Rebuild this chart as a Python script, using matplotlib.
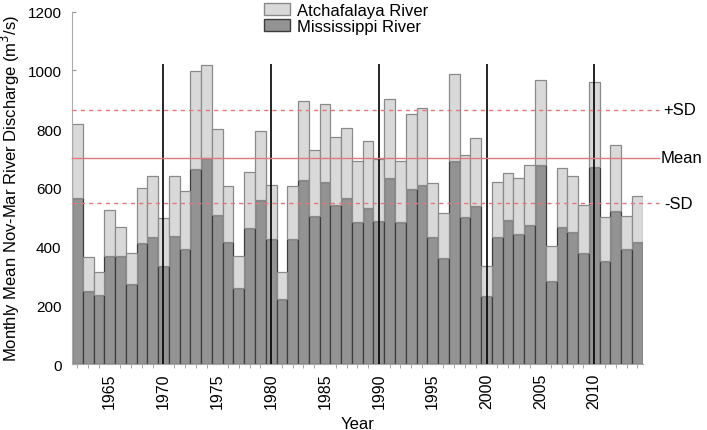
import numpy as np
import matplotlib
matplotlib.use("Agg")
import matplotlib.pyplot as plt
from matplotlib.patches import Patch

plt.rcParams['font.family'] = ['Liberation Sans', 'DejaVu Sans']

# water years 1962-2014
years = np.arange(1962, 2015)

# total discharge (bar tops) and Mississippi part
total = [816, 364, 312, 526, 467, 377, 599, 641, 498, 641,
         591, 998, 1018, 799, 605, 367, 653, 792, 611, 312,
         608, 897, 728, 887, 772, 805, 690, 759, 697, 903,
         690, 851, 872, 616, 514, 989, 713, 769, 333, 621,
         649, 633, 677, 967, 401, 669, 639, 542, 960, 500,
         745, 503, 572]
mississippi = [564, 249, 234, 367, 367, 271, 412, 431, 334, 437,
               392, 663, 703, 506, 415, 259, 463, 559, 426, 223,
               426, 627, 504, 619, 543, 564, 485, 530, 488, 634,
               484, 596, 610, 431, 361, 691, 501, 538, 232, 431,
               489, 443, 472, 678, 282, 465, 448, 377, 671, 351,
               520, 392, 417]
atchafalaya = np.array(total) - np.array(mississippi)

mean_val = 703
sd_hi = 866
sd_lo = 547
decade_years = [1970, 1980, 1990, 2000, 2010]
label_years = list(range(1965, 2015, 5))

fig = plt.figure(figsize=(7.07, 4.31), dpi=100)
ax = fig.add_axes([0.1018, 0.1531, 0.8072, 0.8174])

ax.bar(years, mississippi, width=1.0, color='#939393', edgecolor='#3c3c3c',
       linewidth=0.9, label='Mississippi River', zorder=2)
ax.bar(years, atchafalaya, bottom=mississippi, width=1.0, color='#d9d9d9',
       edgecolor='#8a8a8a', linewidth=0.9, label='Atchafalaya River', zorder=2)

ax.vlines(decade_years, 0, 1022, color='black', linewidth=1.2, zorder=3)

xr = [1961.5, 2016.0]
ax.plot(xr, [mean_val, mean_val], color='#e07a7a', lw=1.0, clip_on=False, zorder=4)
ax.plot(xr, [sd_hi, sd_hi], color='#e07a7a', lw=1.0, ls=(0, (3, 3)), clip_on=False, zorder=4)
ax.plot(xr, [sd_lo, sd_lo], color='#e07a7a', lw=1.0, ls=(0, (3, 3)), clip_on=False, zorder=4)

ax.text(2016.4, sd_hi, '+SD', fontsize=12, va='center', ha='left')
ax.text(2016.2, mean_val, 'Mean', fontsize=12, va='center', ha='left')
ax.text(2016.5, sd_lo, '-SD', fontsize=12, va='center', ha='left')

ax.set_xlim(1961.5, 2014.5)
ax.set_ylim(0, 1200)
ax.set_yticks(range(0, 1201, 200))
ax.set_xticks(label_years)
ax.set_xticklabels([str(y) for y in label_years], rotation=90)
ax.set_xticks(years, minor=True)
ax.tick_params(axis='x', which='major', length=0, pad=6, labelsize=11.5)
ax.tick_params(axis='x', which='minor', length=3, color='#999999')
ax.tick_params(axis='y', length=3, direction='in', color='#999999', labelsize=11, pad=7.5)

for s in ['top', 'right']:
    ax.spines[s].set_visible(False)
ax.spines['left'].set_color('#aaaaaa')
ax.spines['bottom'].set_color('#aaaaaa')

ax.set_xlabel('Year', fontsize=12, labelpad=6)
ax.set_ylabel('Monthly Mean Nov-Mar River Discharge (m$^3$/s)', fontsize=12, labelpad=4)

handles = [Patch(facecolor='#d9d9d9', edgecolor='#8a8a8a', label='Atchafalaya River'),
           Patch(facecolor='#939393', edgecolor='#3c3c3c', label='Mississippi River')]
ax.legend(handles=handles, loc='upper center', bbox_to_anchor=(0.48, 1.045),
          frameon=False, fontsize=12, handlelength=1.6, handleheight=0.8,
          handletextpad=0.4, labelspacing=0.05, borderaxespad=0)

fig.savefig('out.png', dpi=100)
